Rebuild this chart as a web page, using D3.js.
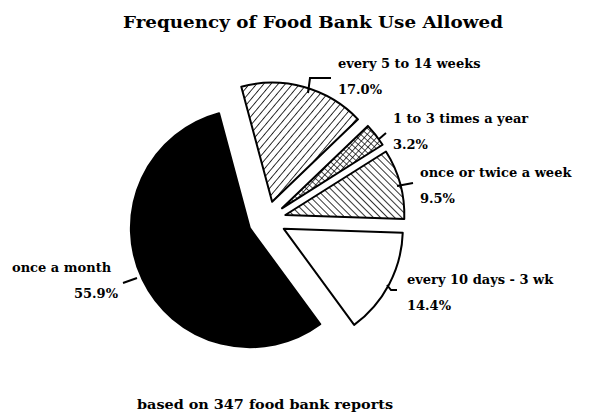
<!doctype html>
<html>
<head>
<style>
  body { margin: 0; background: #fff; }
  text { font-family: "DejaVu Serif", serif; font-weight: bold; fill: #000; }
</style>
<script src="https://d3js.org/d3.v7.min.js"></script>
</head>
<body>
<svg width="594" height="417"></svg>
<script>
// data
var categories = ["every 5 to 14 weeks", "1 to 3 times a year", "once or twice a week", "every 10 days - 3 wk", "once a month"];
var values = [17.0, 3.2, 9.5, 14.4, 55.9];
var pctLabels = ["17.0%", "3.2%", "9.5%", "14.4%", "55.9%"];
var fills = ["url(#hatchA)", "url(#cross)", "url(#hatchB)", "#fff", "#000"];

// label layout: x, baseline of first line, leader points
var labelPos = [
  {x: 338, y: 68, end: false, leader: [[308, 93], [310, 78], [331, 78]]},
  {x: 393, y: 123, end: false, leader: [[379, 139], [386, 133]]},
  {x: 420, y: 177, end: false, leader: [[397, 186], [413, 183]]},
  {x: 407, y: 284, end: false, leader: [[387, 285], [391, 290], [397, 290]]},
  {x: 12, y: 272, end: true, leader: [[123, 283], [137, 278]]}
];

var svg = d3.select("svg");
var defs = svg.append("defs");

function hatch(id, angle, gap) {
  var p = defs.append("pattern").attr("id", id)
    .attr("patternUnits", "userSpaceOnUse")
    .attr("width", gap).attr("height", gap)
    .attr("patternTransform", "rotate(" + angle + ")");
  p.append("rect").attr("width", gap).attr("height", gap).attr("fill", "#fff");
  p.append("line").attr("x1", 0).attr("y1", 0).attr("x2", 0).attr("y2", gap)
    .attr("stroke", "#000").attr("stroke-width", 1.6);
}
hatch("hatchA", 40, 5.5);
hatch("hatchB", -45, 5);

var cp = defs.append("pattern").attr("id", "cross")
  .attr("patternUnits", "userSpaceOnUse")
  .attr("width", 4.5).attr("height", 4.5)
  .attr("patternTransform", "rotate(42)");
cp.append("rect").attr("width", 4.5).attr("height", 4.5).attr("fill", "#fff");
cp.append("path").attr("d", "M0,0V4.5M0,0H4.5").attr("stroke", "#000").attr("stroke-width", 1.4);

svg.append("text")
  .attr("x", 123).attr("y", 28)
  .attr("textLength", 380).attr("lengthAdjust", "spacingAndGlyphs")
  .style("font-size", "17px")
  .text("Frequency of Food Bank Use Allowed");

var cx = 267, cy = 220, r = 119, explode = 19;

var pie = d3.pie().sort(null)
  .startAngle(-15 * Math.PI / 180)
  .endAngle(345 * Math.PI / 180);
var arc = d3.arc().innerRadius(0).outerRadius(r);

var g = svg.append("g").attr("transform", "translate(" + cx + "," + cy + ")");

g.selectAll("path.slice")
  .data(pie(values))
  .enter().append("path")
  .attr("class", "slice")
  .attr("d", arc)
  .attr("transform", function(d) {
    var a = (d.startAngle + d.endAngle) / 2;
    return "translate(" + (Math.sin(a) * explode) + "," + (-Math.cos(a) * explode) + ")";
  })
  .attr("fill", function(d, i) { return fills[i]; })
  .attr("stroke", "#000")
  .attr("stroke-width", 2)
  .attr("stroke-linejoin", "round");

var line = d3.line();
labelPos.forEach(function(p, i) {
  svg.append("path").attr("d", line(p.leader))
    .attr("fill", "none").attr("stroke", "#000").attr("stroke-width", 2);
  svg.append("text")
    .attr("x", p.x).attr("y", p.y)
    .style("font-size", "13px")
    .text(categories[i]);
  svg.append("text")
    .attr("x", p.end ? 118 : p.x).attr("y", p.y + 26)
    .attr("text-anchor", p.end ? "end" : "start")
    .style("font-size", "13px")
    .text(pctLabels[i]);
});

svg.append("text")
  .attr("x", 137).attr("y", 409)
  .attr("textLength", 256).attr("lengthAdjust", "spacingAndGlyphs")
  .style("font-size", "12.5px")
  .text("based on 347 food bank reports");
</script>
</body>
</html>
